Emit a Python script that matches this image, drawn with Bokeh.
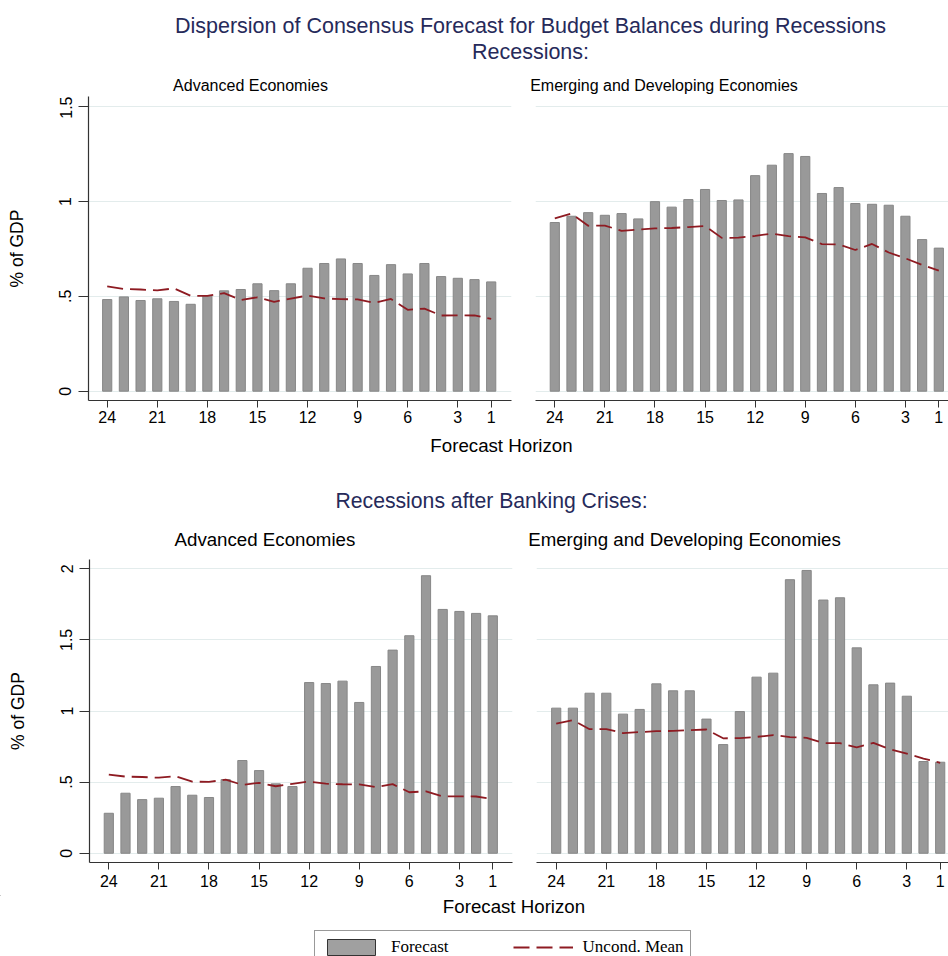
from bokeh.plotting import figure
from bokeh.layouts import column, row
from bokeh.models import Range1d, FixedTicker, ColumnDataSource, Legend, LegendItem
from bokeh.core.properties import value
from bokeh.embed import file_html
from bokeh.resources import INLINE

# ---------------- data ----------------
horizon = list(range(24, 0, -1))
x_ticks = [24, 21, 18, 15, 12, 9, 6, 3, 1]
top_y_ticks = [0, 0.5, 1, 1.5]
bottom_y_ticks = [0, 0.5, 1, 1.5, 2]
y_tick_labels = {0: "0", 0.5: ".5", 1: "1", 1.5: "1.5", 2: "2"}

ae_recession = [0.483, 0.497, 0.478, 0.487, 0.473, 0.458, 0.504, 0.529, 0.536, 0.566, 0.530, 0.566,
                0.648, 0.673, 0.697, 0.673, 0.610, 0.667, 0.618, 0.673, 0.604, 0.595, 0.588, 0.576]
em_recession = [0.889, 0.922, 0.941, 0.927, 0.936, 0.908, 0.999, 0.970, 1.010, 1.063, 1.005, 1.008,
                1.136, 1.191, 1.252, 1.237, 1.042, 1.073, 0.989, 0.985, 0.980, 0.922, 0.799, 0.754]
ae_banking = [0.281, 0.422, 0.377, 0.387, 0.469, 0.408, 0.392, 0.518, 0.652, 0.581, 0.488, 0.469,
              1.200, 1.193, 1.210, 1.060, 1.313, 1.428, 1.529, 1.951, 1.714, 1.700, 1.686, 1.669]
em_banking = [1.020, 1.020, 1.125, 1.125, 0.978, 1.011, 1.191, 1.142, 1.142, 0.943, 0.764, 0.996,
              1.238, 1.266, 1.923, 1.988, 1.780, 1.796, 1.444, 1.184, 1.196, 1.104, 0.645, 0.640]
mean_ae = [0.552, 0.539, 0.536, 0.531, 0.542, 0.503, 0.502, 0.517, 0.481, 0.495, 0.471, 0.488,
           0.504, 0.489, 0.485, 0.484, 0.465, 0.486, 0.429, 0.435, 0.399, 0.400, 0.399, 0.381]
mean_em = [0.911, 0.936, 0.872, 0.873, 0.845, 0.852, 0.858, 0.860, 0.865, 0.870, 0.808, 0.809,
           0.818, 0.831, 0.817, 0.811, 0.775, 0.774, 0.744, 0.776, 0.731, 0.700, 0.666, 0.635]

main_title = "Dispersion of Consensus Forecast for Budget Balances during Recessions"
row1_title = "Recessions:"
row2_title = "Recessions after Banking Crises:"
panel_titles = ["Advanced Economies", "Emerging and Developing Economies"]
x_title = "Forecast Horizon"
y_title = "% of GDP"
legend_labels = ["Forecast", "Uncond. Mean"]

# ---------------- styles ----------------
SANS = "Liberation Sans"
SERIF = "Liberation Serif"
NAVY = "#262a5a"
BAR_FILL = "#999999"
BAR_LINE = "#878787"
MEAN_COLOR = "#8e1b22"
GRID_COLOR = "#e3ecec"
AXIS_COLOR = "#333333"
TOTAL_W = 948
TXT = 7.5  # baseline correction of the text glyph


def text_fig(width, height):
    p = figure(width=width, height=height, x_range=Range1d(0, width), y_range=Range1d(height, 0),
               output_backend="svg", toolbar_location=None, min_border=0,
               x_axis_location=None, y_axis_location=None)
    p.outline_line_color = None
    p.grid.visible = False
    p.background_fill_color = "white"
    p.border_fill_color = "white"
    return p


def add_text(p, x, y, txt, size, color="black", font=SANS):
    p.text(x=[x], y=[y - TXT], text=[txt], text_font=value(font), text_font_size=value(size),
           text_color=color, text_align="center", text_baseline="alphabetic")


def panel(values, means, width, height, bl, br, bb, xr, yr, y_ticks, show_y, x_standoff):
    p = figure(width=width, height=height, x_range=Range1d(*xr), y_range=Range1d(*yr),
               output_backend="svg", toolbar_location=None,
               min_border_left=bl, min_border_right=br, min_border_top=0, min_border_bottom=bb,
               y_axis_location="left" if show_y else None)
    p.outline_line_color = None
    p.background_fill_color = "white"
    p.border_fill_color = "white"
    src = ColumnDataSource(dict(h=horizon, v=values, m=means))
    p.xgrid.visible = False
    p.ygrid.ticker = FixedTicker(ticks=y_ticks)
    p.ygrid.grid_line_color = GRID_COLOR
    p.ygrid.grid_line_width = 1
    p.vbar(x="h", top="v", bottom=0, width=0.55, source=src,
           fill_color=BAR_FILL, line_color=BAR_LINE, line_width=1)
    p.line(x="h", y="m", source=src, line_color=MEAN_COLOR, line_width=1.8, line_dash="16 7")

    xa = p.xaxis[0]
    xa.ticker = FixedTicker(ticks=x_ticks)
    xa.major_label_text_font = SANS
    xa.major_label_text_font_size = "16px"
    xa.major_label_text_color = "black"
    xa.major_tick_out = 7
    xa.major_tick_in = 0
    xa.minor_tick_out = 0
    xa.minor_tick_in = 0
    xa.axis_line_color = AXIS_COLOR
    xa.axis_line_width = 1.2
    xa.major_tick_line_color = AXIS_COLOR
    xa.major_label_standoff = x_standoff

    if show_y:
        ya = p.yaxis[0]
        ya.ticker = FixedTicker(ticks=y_ticks)
        ya.major_label_overrides = {k: v for k, v in y_tick_labels.items() if k in y_ticks}
        ya.major_label_orientation = "vertical"
        ya.major_label_text_font = SANS
        ya.major_label_text_font_size = "16px"
        ya.major_label_text_color = "black"
        ya.major_tick_out = 10
        ya.major_tick_in = 0
        ya.minor_tick_out = 0
        ya.minor_tick_in = 0
        ya.axis_line_color = AXIS_COLOR
        ya.axis_line_width = 1.2
        ya.major_tick_line_color = AXIS_COLOR
        ya.major_label_standoff = 7
        ya.axis_label = y_title
        ya.axis_label_text_font = SANS
        ya.axis_label_text_font_size = "17.5px"
        ya.axis_label_text_font_style = "normal"
        ya.axis_label_text_color = "black"
        ya.axis_label_standoff = 30
    return p


# ---------------- header (page y 0..96) ----------------
hdr1 = text_fig(TOTAL_W, 96)
add_text(hdr1, 530, 32.7, main_title, "21.5px", NAVY)
add_text(hdr1, 530, 59.3, row1_title, "21.5px", NAVY)
add_text(hdr1, 250, 92.5, panel_titles[0], "16px")
add_text(hdr1, 663.5, 92.5, panel_titles[1], "16px")

# ---------------- top row (page y 96..432) ----------------
tl = panel(ae_recession, mean_ae, 520, 336, 88, 9, 32, (25.12, -0.216), (-0.049, 1.553),
           top_y_ticks, True, 3)
tr = panel(em_recession, mean_em, 428, 336, 15, 0, 32, (25.156, 0.42), (-0.049, 1.553),
           top_y_ticks, False, 3)

# ---------------- middle header (page y 432..559) ----------------
hdr2 = text_fig(TOTAL_W, 127)
add_text(hdr2, 501, 20.7, x_title, "18.7px")
add_text(hdr2, 491, 75, row2_title, "21.2px", NAVY)
add_text(hdr2, 264.4, 114.7, panel_titles[0], "18.7px")
add_text(hdr2, 684, 114.7, panel_titles[1], "18.7px")

# ---------------- bottom row (page y 559..895) ----------------
bl = panel(ae_banking, mean_ae, 520, 336, 89, 8, 33, (25.156, -0.18), (-0.065, 2.065),
           bottom_y_ticks, True, 5)
br = panel(em_banking, mean_em, 428, 336, 16, 0, 33, (25.18, 0.503), (-0.065, 2.065),
           bottom_y_ticks, False, 5)

# ---------------- footer with legend (page y 895..956) ----------------
foot = text_fig(TOTAL_W, 61)
add_text(foot, 513.5, 18, x_title, "18.7px")
# legend proxies, placed far outside the visible range of this strip
r_bar = foot.vbar(x=[-5000], top=[-5000], bottom=[-5001], width=0.5, fill_color="#a0a0a0",
                  line_color="#333333", line_width=1)
r_line = foot.line(x=[-6000, -5000], y=[-5000, -5000], line_color=MEAN_COLOR, line_width=2,
                   line_dash="16 7")
legend = Legend(items=[LegendItem(label=value(legend_labels[0]), renderers=[r_bar]),
                       LegendItem(label=value(legend_labels[1]), renderers=[r_line])],
                location=(314, -8), orientation="horizontal")
legend.padding = 6
legend.margin = 0
legend.spacing = 64
legend.label_standoff = 10
legend.glyph_width = 60
legend.glyph_height = 20
legend.label_text_font = SERIF
legend.label_text_font_size = "17px"
legend.label_text_color = "black"
legend.border_line_color = "#333333"
legend.border_line_width = 1
legend.background_fill_color = "white"
legend.background_fill_alpha = 1
foot.add_layout(legend)

layout = column(hdr1, row(tl, tr), hdr2, row(bl, br), foot)

open("out.html", "w").write(file_html(layout, INLINE))
